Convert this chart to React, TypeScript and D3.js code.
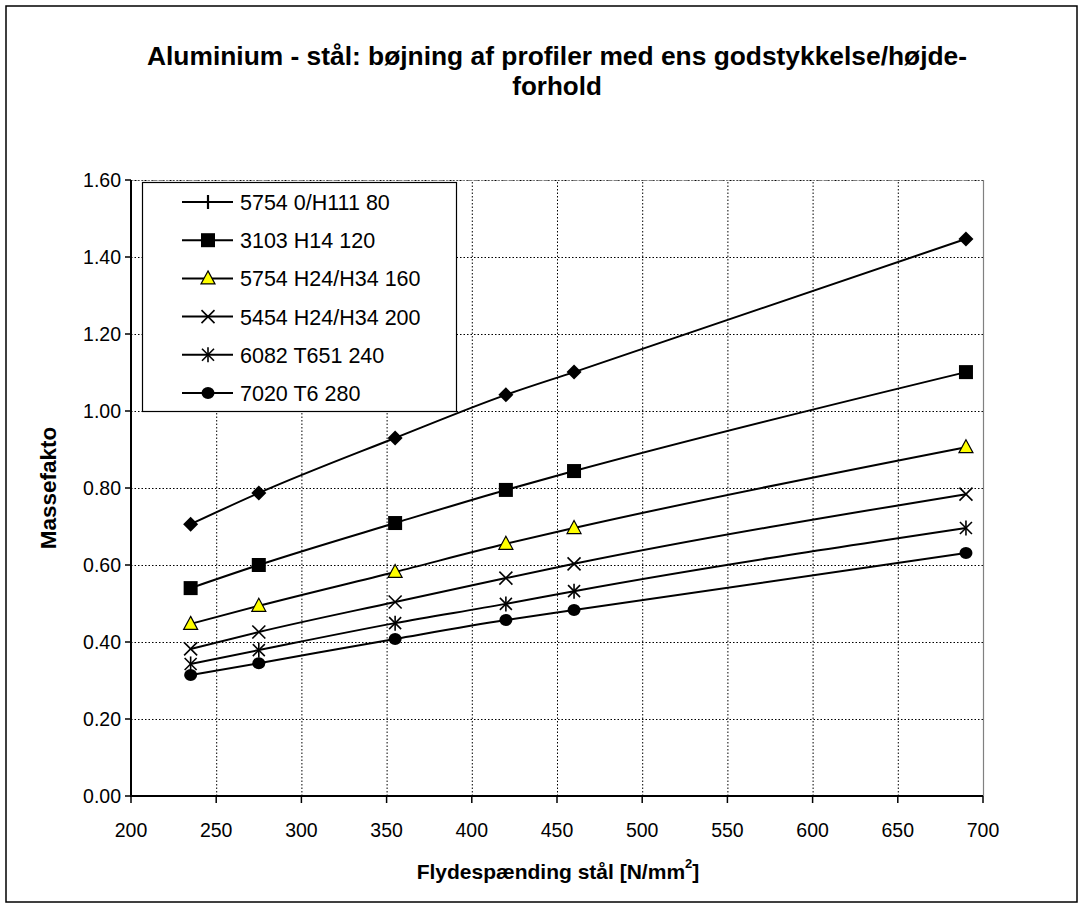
import React from "react";
import * as d3 from "d3";

const xValues = [235, 275, 355, 420, 460, 690];
const seriesNames = [
  "5754 0/H111 80",
  "3103 H14 120",
  "5754 H24/H34 160",
  "5454 H24/H34 200",
  "6082 T651 240",
  "7020 T6 280",
];
const s1 = [0.706, 0.787, 0.93, 1.042, 1.101, 1.447];
const s2 = [0.54, 0.6, 0.709, 0.795, 0.844, 1.101];
const s3 = [0.447, 0.494, 0.582, 0.655, 0.696, 0.906];
const s4 = [0.382, 0.426, 0.504, 0.566, 0.603, 0.784];
const s5 = [0.343, 0.379, 0.449, 0.499, 0.532, 0.696];
const s6 = [0.314, 0.345, 0.408, 0.457, 0.483, 0.631];
const seriesValues = [s1, s2, s3, s4, s5, s6];
const markerKinds = ["diamond", "square", "triangle", "x", "star", "circle"];
const legendMarkerKinds = ["bar", "square", "triangle", "x", "star", "circle"];
const xTicks = [200, 250, 300, 350, 400, 450, 500, 550, 600, 650, 700];
const yTicks = [0, 0.2, 0.4, 0.6, 0.8, 1.0, 1.2, 1.4, 1.6];

const FONT = "'Liberation Sans', Arial, Helvetica, sans-serif";

function Marker({ kind, cx, cy }: { kind: string; cx: number; cy: number }) {
  switch (kind) {
    case "diamond":
      return (
        <path
          d={`M${cx},${cy - 7.5}L${cx + 7.5},${cy}L${cx},${cy + 7.5}L${cx - 7.5},${cy}Z`}
          fill="#000"
        />
      );
    case "square":
      return <rect x={cx - 7} y={cy - 7} width={14} height={14} fill="#000" />;
    case "triangle":
      return (
        <path
          d={`M${cx},${cy - 7.5}L${cx + 7},${cy + 5.5}L${cx - 7},${cy + 5.5}Z`}
          fill="#ffff00"
          stroke="#000"
          strokeWidth={1.2}
        />
      );
    case "x":
      return (
        <g stroke="#000" strokeWidth={1.6}>
          <line x1={cx - 6.5} y1={cy - 6.5} x2={cx + 6.5} y2={cy + 6.5} />
          <line x1={cx - 6.5} y1={cy + 6.5} x2={cx + 6.5} y2={cy - 6.5} />
        </g>
      );
    case "star":
      return (
        <g stroke="#000" strokeWidth={1.6}>
          <line x1={cx - 6} y1={cy - 6} x2={cx + 6} y2={cy + 6} />
          <line x1={cx - 6} y1={cy + 6} x2={cx + 6} y2={cy - 6} />
          <line x1={cx} y1={cy - 7.5} x2={cx} y2={cy + 7.5} />
        </g>
      );
    case "circle":
      return <ellipse cx={cx} cy={cy} rx={6.5} ry={6} fill="#000" />;
    case "bar":
      return <line x1={cx} y1={cy - 7} x2={cx} y2={cy + 7} stroke="#000" strokeWidth={2.2} />;
    default:
      return null;
  }
}

export default function App() {
  const W = 1083;
  const H = 908;
  const x = d3.scaleLinear().domain([200, 700]).range([131, 983]);
  const y = d3.scaleLinear().domain([0, 1.6]).range([796, 180]);
  const line = d3
    .line<number>()
    .x((_, i) => x(xValues[i]))
    .y((d) => y(d))
    .curve(d3.curveMonotoneX);

  const legendX = 142;
  const legendY = 182;
  const legendW = 314;
  const legendH = 229;
  const rowY = (i: number) => 202 + i * 38.2;

  return (
    <svg
      width={W}
      height={H}
      style={{ position: "absolute", left: 0, top: 0, background: "#fff" }}
      fontFamily={FONT}
    >
      <rect x={0} y={0} width={W} height={H} fill="#fff" />
      <rect x={6} y={6} width={1071} height={896} fill="none" stroke="#000" strokeWidth={1.5} />

      {/* Title */}
      <text x={557} y={65} textAnchor="middle" fontSize={26} fontWeight="bold" fill="#000" textLength={820} lengthAdjust="spacingAndGlyphs">
        Aluminium - stål: bøjning af profiler med ens godstykkelse/højde-
      </text>
      <text x={557} y={95} textAnchor="middle" fontSize={26} fontWeight="bold" fill="#000">
        forhold
      </text>

      {/* Grid */}
      <g stroke="#000" strokeWidth={1} strokeDasharray="1.5,2">
        {yTicks
          .filter((t) => t > 0)
          .map((t) => (
            <line key={"gy" + t} x1={x(200)} x2={x(700)} y1={y(t) + 0.5} y2={y(t) + 0.5} />
          ))}
        {xTicks
          .filter((t) => t > 200 && t < 700)
          .map((t) => (
            <line key={"gx" + t} x1={x(t) + 0.5} x2={x(t) + 0.5} y1={y(0)} y2={y(1.6)} />
          ))}
      </g>
      <line x1={x(200)} x2={x(700)} y1={y(1.6) + 0.5} y2={y(1.6) + 0.5} stroke="#808080" strokeWidth={1} strokeDasharray="1.5,1" />
      <line x1={x(700) + 0.5} x2={x(700) + 0.5} y1={y(1.6)} y2={y(0)} stroke="#808080" strokeWidth={1.2} />

      {/* Axes */}
      <line x1={x(200)} x2={x(200)} y1={y(1.6)} y2={y(0) + 1} stroke="#000" strokeWidth={2} />
      <line x1={x(200) - 1} x2={x(700)} y1={y(0)} y2={y(0)} stroke="#000" strokeWidth={2} />
      {yTicks.map((t) => (
        <g key={"ty" + t}>
          <line x1={x(200) - 6} x2={x(200)} y1={y(t)} y2={y(t)} stroke="#000" strokeWidth={1.5} />
          <text x={x(200) - 10} y={y(t) + 7} textAnchor="end" fontSize={19.5} fill="#000">
            {t.toFixed(2)}
          </text>
        </g>
      ))}
      {xTicks.map((t) => (
        <g key={"tx" + t}>
          <line x1={x(t)} x2={x(t)} y1={y(0)} y2={y(0) + 7} stroke="#000" strokeWidth={1.5} />
          <text x={x(t)} y={837} textAnchor="middle" fontSize={19.5} fill="#000">
            {t}
          </text>
        </g>
      ))}

      {/* Axis titles */}
      <text x={558} y={879} textAnchor="middle" fontSize={21} fontWeight="bold" fill="#000">
        Flydespænding stål [N/mm
        <tspan dy={-11} fontSize={13}>2</tspan>
        <tspan dy={11}>]</tspan>
      </text>
      <text
        transform={`translate(56,488) rotate(-90)`}
        textAnchor="middle"
        fontSize={22.5}
        fontWeight="bold"
        fill="#000"
      >
        Massefakto
      </text>

      {/* Series */}
      {seriesValues.map((vals, si) => (
        <g key={"s" + si}>
          <path d={line(vals) || ""} fill="none" stroke="#000" strokeWidth={2} />
          {vals.map((v, i) => (
            <Marker key={i} kind={markerKinds[si]} cx={x(xValues[i])} cy={y(v)} />
          ))}
        </g>
      ))}

      {/* Legend */}
      <rect x={legendX + 0.5} y={legendY + 0.5} width={legendW} height={legendH} fill="#fff" stroke="#000" strokeWidth={1.2} />
      {seriesNames.map((name, i) => (
        <g key={"l" + i}>
          <line x1={182} x2={233} y1={rowY(i)} y2={rowY(i)} stroke="#000" strokeWidth={2} />
          <Marker kind={legendMarkerKinds[i]} cx={208} cy={rowY(i)} />
          <text x={240} y={rowY(i) + 8} fontSize={21.5} fill="#000">
            {name}
          </text>
        </g>
      ))}
    </svg>
  );
}
